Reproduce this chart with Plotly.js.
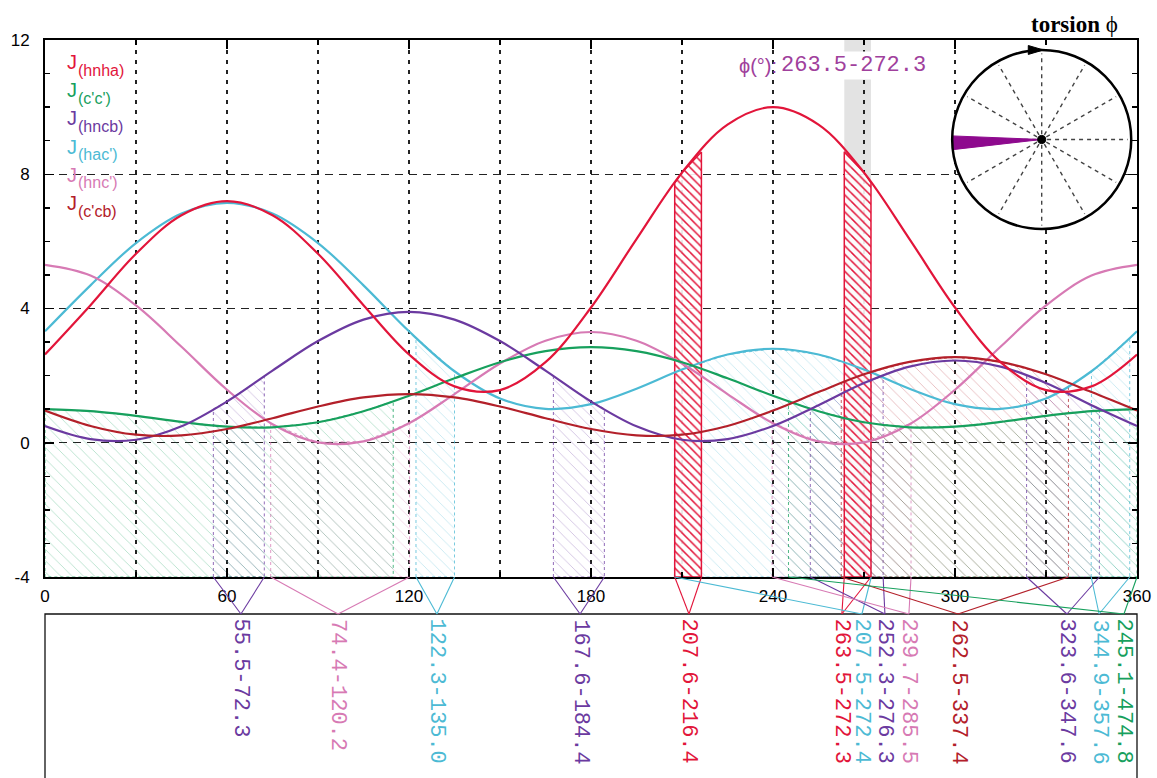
<!DOCTYPE html>
<html><head><meta charset="utf-8">
<script src="https://cdn.plot.ly/plotly-3.0.1.min.js"></script>
<style>html,body{margin:0;padding:0;background:#fff}</style>
</head><body><div id="chart" style="width:1157px;height:778px"></div>
<script>
// ---------- data ----------
const phi      = [0,15,30,45,60,75,90,105,120,135,150,165,180,195,210,225,240,255,270,285,300,315,330,345,360];
const J_hnha   = [2.63,4.10,5.63,6.78,7.20,6.78,5.63,4.10,2.63,1.68,1.57,2.40,4.03,6.07,8.05,9.48,10.0,9.48,8.05,6.07,4.03,2.40,1.57,1.68,2.63];
const J_cc     = [1.00,0.94,0.80,0.62,0.48,0.46,0.61,0.94,1.40,1.92,2.40,2.73,2.85,2.73,2.40,1.92,1.40,0.94,0.61,0.46,0.48,0.62,0.80,0.94,1.00];
const J_hncb   = [0.50,0.11,0.09,0.49,1.23,2.15,3.03,3.67,3.90,3.67,3.03,2.15,1.23,0.49,0.09,0.11,0.50,1.12,1.78,2.27,2.45,2.27,1.78,1.12,0.50];
const J_hac    = [3.32,4.69,5.95,6.83,7.15,6.83,5.95,4.69,3.32,2.13,1.32,1.01,1.15,1.61,2.18,2.63,2.80,2.63,2.18,1.61,1.15,1.01,1.32,2.13,3.32];
const J_hnc    = [5.30,4.98,4.09,2.86,1.58,0.55,0.01,0.04,0.58,1.45,2.36,3.04,3.30,3.04,2.36,1.45,0.58,0.04,0.01,0.55,1.58,2.86,4.09,4.98,5.30];
const J_ccb    = [0.96,0.50,0.24,0.22,0.41,0.73,1.08,1.35,1.45,1.35,1.08,0.73,0.41,0.22,0.24,0.50,0.96,1.51,2.04,2.41,2.55,2.41,2.04,1.51,0.96];

const seriesLabels = ["(hnha)", "(c'c')", "(hncb)", "(hac')", "(hnc')", "(c'cb)"];
const seriesValues = [J_hnha, J_cc, J_hncb, J_hac, J_hnc, J_ccb];

// allowed torsion ranges (band -> series index)
const bandSeries = [2, 4, 3, 2, 0, 0, 3, 2, 4, 5, 2, 3, 1];
const bandLo     = [55.5, 74.4, 122.3, 167.6, 207.6, 263.5, 207.5, 252.3, 239.7, 262.5, 323.6, 344.9, 245.1];
const bandHi     = [72.3, 120.2, 135.0, 184.4, 216.4, 272.3, 272.4, 276.3, 285.5, 337.4, 347.6, 357.6, 474.8];
const selectedRange = [263.5, 272.3];
const xTicks = [0, 60, 120, 180, 240, 300, 360];
const yTicks = [-4, 0, 4, 8, 12];

// ---------- styling / layout ----------
const colors = ['#e2153a', '#17a05d', '#6b3aa0', '#4cbad4', '#d77ab4', '#b3202a'];
const labelAnchorX = [64.6, 96.6, 129.2, 176.4, 212.3, 262.7, 269.3, 276.9, 284.8, 301.0, 336.9, 347.5, 355.7];
const hatchSeries = 0;

const px2x = px => (px - 45) / 1092;
const py2y = py => (577 - py) / 537;

function rgba(hex, a) {
  const n = parseInt(hex.slice(1), 16);
  return `rgba(${(n>>16)&255},${(n>>8)&255},${n&255},${a})`;
}
function valueAt(vals, x) {
  for (let i = 0; i < phi.length - 1; i++) {
    if (x >= phi[i] && x <= phi[i+1]) {
      const t = (x - phi[i]) / (phi[i+1] - phi[i]);
      return vals[i] + t * (vals[i+1] - vals[i]);
    }
  }
  return vals[vals.length - 1];
}
function bandPoly(vals, lo, hi) {
  const xs = [lo, lo], ys = [-4, valueAt(vals, lo)];
  for (let i = 0; i < phi.length; i++) if (phi[i] > lo && phi[i] < hi) { xs.push(phi[i]); ys.push(vals[i]); }
  xs.push(hi, hi, lo); ys.push(valueAt(vals, hi), -4, -4);
  return {xs, ys};
}
function pieces(lo, hi) {
  return hi > 360 ? [[lo, 360], [0, hi - 360]] : [[lo, hi]];
}

const traces = [];
// dotted bands
bandSeries.forEach((s, k) => {
  if (s === hatchSeries) return;
  pieces(bandLo[k], bandHi[k]).forEach(([lo, hi]) => {
    const p = bandPoly(seriesValues[s], lo, hi);
    traces.push({
      x: p.xs, y: p.ys, type: 'scatter', mode: 'lines', fill: 'toself',
      fillcolor: 'rgba(0,0,0,0)',
      fillpattern: {shape: '\\', fgcolor: colors[s], bgcolor: 'rgba(0,0,0,0)', fgopacity: 0.35, size: 8, solidity: 0.1},
      line: {color: rgba(colors[s], 0.75), width: 1, dash: 'dot'},
      hoverinfo: 'skip', showlegend: false
    });
  });
});
// hatched red bands
bandSeries.forEach((s, k) => {
  if (s !== hatchSeries) return;
  const p = bandPoly(seriesValues[s], bandLo[k], bandHi[k]);
  traces.push({
    x: p.xs, y: p.ys, type: 'scatter', mode: 'lines', fill: 'toself',
    fillcolor: 'rgba(255,255,255,0.9)',
    fillpattern: {shape: '\\', fgcolor: colors[s], bgcolor: 'rgba(255,255,255,0.9)', size: 6, solidity: 0.25},
    line: {color: colors[s], width: 1.5},
    hoverinfo: 'skip', showlegend: false
  });
});
// curves
[3, 4, 1, 2, 5, 0].forEach(s => {
  traces.push({
    x: phi, y: seriesValues[s], type: 'scatter', mode: 'lines',
    line: {color: colors[s], width: 2.2, shape: 'spline', smoothing: 1},
    name: 'J' + seriesLabels[s], showlegend: false
  });
});
// inset dial: spokes
const sx = [], sy = [];
for (let a = 0; a < 360; a += 30) {
  const r = a * Math.PI / 180;
  sx.push(0.06 * Math.sin(r), 0.96 * Math.sin(r), null);
  sy.push(0.06 * Math.cos(r), 0.96 * Math.cos(r), null);
}
traces.push({x: sx, y: sy, xaxis: 'x2', yaxis: 'y2', type: 'scatter', mode: 'lines',
  line: {color: '#444', width: 1.4, dash: '4px,4px'}, hoverinfo: 'skip', showlegend: false});
// inset dial: wedge of selected range
const wx = [0], wy = [0];
for (let i = 0; i <= 10; i++) {
  const a = (selectedRange[0] + (selectedRange[1] - selectedRange[0]) * i / 10) * Math.PI / 180;
  wx.push(Math.sin(a)); wy.push(Math.cos(a));
}
wx.push(0); wy.push(0);
traces.push({x: wx, y: wy, xaxis: 'x2', yaxis: 'y2', type: 'scatter', mode: 'lines', fill: 'toself',
  fillcolor: '#8e0a8e', line: {color: '#8e0a8e', width: 1}, hoverinfo: 'skip', showlegend: false});

// ---------- shapes ----------
const shapes = [
  {type: 'rect', xref: 'x', yref: 'y', x0: selectedRange[0], x1: selectedRange[1], y0: -4, y1: 12,
   fillcolor: '#e3e3e3', line: {width: 0}, layer: 'below'},
  {type: 'rect', xref: 'paper', yref: 'paper', x0: 0, x1: 1, y0: py2y(800), y1: py2y(614),
   fillcolor: 'rgba(0,0,0,0)', line: {color: '#111', width: 1.3}},
  {type: 'circle', xref: 'x2', yref: 'y2', x0: -1, x1: 1, y0: -1, y1: 1, fillcolor: '#fff', line: {width: 0}, layer: 'below'},
  {type: 'circle', xref: 'x2', yref: 'y2', x0: -1, x1: 1, y0: -1, y1: 1, line: {color: '#000', width: 2.5}},
  {type: 'circle', xref: 'x2', yref: 'y2', x0: -0.045, x1: 0.045, y0: -0.045, y1: 0.045, fillcolor: '#000', line: {color: '#000', width: 1}},
  {type: 'path', xref: 'x2', yref: 'y2', path: 'M 0.02 1 L -0.15 1.05 L -0.15 0.95 Z', fillcolor: '#000', line: {color: '#000', width: 1}}
];
bandSeries.forEach((s, k) => {
  const hi = Math.min(bandHi[k], 360);
  [bandLo[k], hi].forEach(x0 => shapes.push({
    type: 'line', xref: 'x', yref: 'paper', x0: x0, y0: 0, x1: labelAnchorX[k], y1: py2y(614),
    line: {color: colors[s], width: 1.1}
  }));
});

// ---------- annotations ----------
const annotations = [];
seriesLabels.forEach((lab, s) => {
  annotations.push({
    xref: 'paper', yref: 'paper', x: px2x(65), y: py2y(62 + 28.2 * s), xanchor: 'left', yanchor: 'middle',
    showarrow: false, text: 'J',
    font: {family: 'Liberation Sans, Arial, sans-serif', size: 20, color: colors[s]}
  });
  annotations.push({
    xref: 'paper', yref: 'paper', x: px2x(76), y: py2y(70 + 28.2 * s), xanchor: 'left', yanchor: 'middle',
    showarrow: false, text: lab,
    font: {family: 'Liberation Sans, Arial, sans-serif', size: 16, color: colors[s]}
  });
});
bandSeries.forEach((s, k) => annotations.push({
  xref: 'x', yref: 'paper', x: labelAnchorX[k], y: py2y(617), xanchor: 'center', yanchor: 'top',
  textangle: 90, showarrow: false, text: bandLo[k].toFixed(1) + '-' + bandHi[k].toFixed(1),
  font: {family: 'Liberation Mono, Courier New, monospace', size: 22, color: colors[s]}
}));
annotations.push({xref: 'paper', yref: 'paper', x: px2x(1074), y: py2y(25), xanchor: 'center', yanchor: 'middle',
  showarrow: false, text: '<b>torsion</b> ϕ', font: {family: 'Liberation Serif, Times New Roman, serif', size: 23, color: '#000'}});
annotations.push({xref: 'paper', yref: 'paper', x: px2x(779), y: py2y(66), xanchor: 'right', yanchor: 'middle',
  showarrow: false, text: 'ϕ(°):', font: {family: 'Liberation Sans, Arial, sans-serif', size: 20, color: '#a0409c'}});
annotations.push({xref: 'paper', yref: 'paper', x: px2x(779), y: py2y(66), xanchor: 'left', yanchor: 'middle',
  showarrow: false, bgcolor: '#fff', borderpad: 1,
  text: selectedRange[0].toFixed(1) + '-' + selectedRange[1].toFixed(1),
  font: {family: 'Liberation Mono, Courier New, monospace', size: 22, color: '#a0409c'}});

const gridDashX = '4px,6px';
const gridDashY = '8px,6px';
const layout = {
  width: 1157, height: 778,
  margin: {l: 45, r: 20, t: 40, b: 201},
  paper_bgcolor: '#fff', plot_bgcolor: 'rgba(0,0,0,0)',
  showlegend: false,
  xaxis: {
    range: [0, 360], tickvals: xTicks, ticktext: xTicks.map(String),
    ticks: 'inside', ticklen: 9, tickwidth: 1.5, tickcolor: '#000',
    showline: true, linecolor: '#000', linewidth: 2, mirror: 'ticks',
    showgrid: true, gridcolor: '#222', gridwidth: 1.2, griddash: gridDashX, zeroline: false,
    minor: {dtick: 30, tick0: 0, ticks: 'inside', ticklen: 5, tickcolor: '#000', showgrid: true, gridcolor: '#222', gridwidth: 1.2, griddash: gridDashX},
    tickfont: {family: 'Liberation Sans, Arial, sans-serif', size: 17, color: '#000'},
    ticklabelstandoff: 3, fixedrange: true
  },
  yaxis: {
    range: [-4, 12], tickvals: yTicks, ticktext: yTicks.map(String),
    ticks: 'inside', ticklen: 9, tickwidth: 1.5, tickcolor: '#000',
    showline: true, linecolor: '#000', linewidth: 2, mirror: 'ticks',
    showgrid: true, gridcolor: '#222', gridwidth: 1.2, griddash: gridDashY, zeroline: false,
    minor: {dtick: 1, ticks: 'inside', ticklen: 5, tickcolor: '#000', showgrid: false},
    tickfont: {family: 'Liberation Sans, Arial, sans-serif', size: 17, color: '#000'},
    ticklabelstandoff: 10, fixedrange: true
  },
  xaxis2: {domain: [px2x(946.8), px2x(1136.6)], range: [-1.06, 1.06], visible: false, fixedrange: true, anchor: 'y2'},
  yaxis2: {domain: [py2y(234.4), py2y(44.6)], range: [-1.06, 1.06], visible: false, fixedrange: true, anchor: 'x2'},
  shapes: shapes,
  annotations: annotations
};

Plotly.newPlot('chart', traces, layout, {displayModeBar: false, staticPlot: true});
</script>
</body></html>
